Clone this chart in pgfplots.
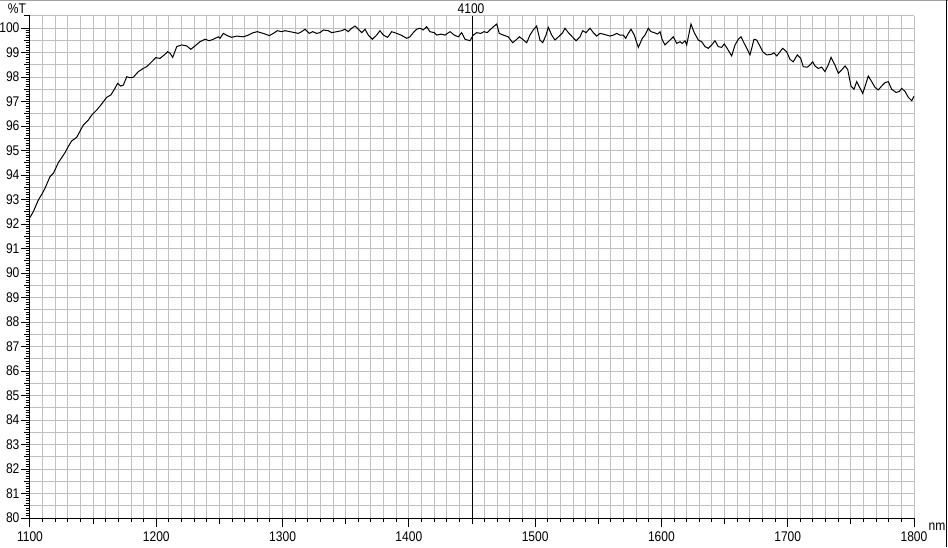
\documentclass[border=0pt]{standalone}
\usepackage{fontspec}
\setmainfont[FakeStretch=0.86]{Liberation Sans}
\usepackage{pgfplots}
\pgfplotsset{compat=1.18}
\definecolor{gridgray}{RGB}{192,192,192}
\definecolor{framegray}{RGB}{160,160,160}
\begin{document}
\begin{tikzpicture}
\path[use as bounding box] (-22.5pt,-21.75pt) rectangle (688.5pt,388.5pt);
\begin{axis}[
  at={(0pt,0pt)}, anchor=south west, scale only axis,
  width=663pt, height=376.6875pt,
  xmin=1100, xmax=1800, ymin=80, ymax=100.5,
  axis x line*=bottom, axis y line*=left,
  axis line style={-, black, line width=0.75pt},
  tick align=outside,
  xtick={1100,1200,...,1800}, minor x tick num=9,
  ytick={80,81,...,100}, minor y tick num=9,
  extra x ticks={1150,1250,...,1750}, extra x tick labels={},
  extra x tick style={major tick length=4.5pt},
  extra y ticks={80.5,81.5,...,100.5}, extra y tick labels={},
  extra y tick style={major tick length=4.5pt, grid=major},
  xmajorgrids, xminorgrids, ymajorgrids,
  grid style={draw=gridgray, line width=0.75pt},
  major tick length=6.75pt, minor tick length=3pt,
  tick style={black, line width=0.75pt},
  tick label style={font=\fontsize{10.5}{12}\selectfont},
  yticklabel style={inner sep=1pt},
  /pgf/number format/assume math mode=true,
  /pgf/number format/1000 sep={},
]
\addplot[black, line width=0.75pt] coordinates {(1450,80) (1450,100.5)};
\addplot[black, line width=0.75pt] table {
x y
1100.0 92.27
1102.6 92.50
1106.6 92.98
1109.3 93.21
1111.9 93.46
1115.8 93.93
1118.5 94.07
1122.4 94.50
1127.7 94.91
1130.3 95.16
1133.0 95.39
1137.0 95.54
1142.2 96.04
1146.2 96.24
1148.9 96.45
1152.8 96.65
1156.8 96.90
1160.7 97.17
1164.1 97.27
1167.3 97.54
1169.4 97.74
1171.8 97.63
1173.9 97.67
1176.6 98.01
1179.2 97.97
1181.8 97.99
1185.8 98.22
1189.7 98.35
1192.4 98.42
1196.4 98.62
1199.5 98.79
1202.9 98.76
1206.3 98.90
1209.0 99.03
1210.9 98.97
1213.0 98.80
1216.2 99.24
1220.1 99.31
1224.1 99.27
1227.3 99.13
1230.7 99.27
1234.6 99.44
1238.6 99.54
1242.0 99.48
1245.1 99.54
1249.1 99.64
1250.5 99.58
1253.1 99.78
1257.0 99.67
1259.7 99.62
1263.7 99.67
1268.9 99.64
1272.9 99.71
1276.8 99.81
1280.0 99.85
1284.7 99.78
1289.5 99.69
1292.7 99.78
1295.8 99.89
1299.3 99.85
1301.9 99.89
1305.9 99.85
1309.8 99.81
1312.5 99.78
1315.1 99.85
1317.8 99.95
1321.2 99.78
1323.9 99.85
1327.0 99.78
1329.6 99.81
1332.3 99.92
1336.2 99.89
1338.9 99.81
1342.9 99.85
1346.8 99.89
1349.4 99.95
1352.0 99.85
1354.7 99.99
1357.4 100.08
1360.0 99.95
1362.7 99.81
1365.3 99.95
1367.9 99.71
1371.1 99.54
1374.5 99.71
1377.1 99.89
1379.8 99.71
1383.2 99.62
1386.4 99.85
1390.4 99.78
1393.8 99.71
1398.3 99.58
1400.9 99.64
1403.5 99.81
1406.2 99.95
1408.8 99.99
1411.4 99.92
1414.1 100.05
1416.7 99.85
1420.2 99.81
1422.0 99.71
1425.5 99.75
1428.6 99.71
1432.6 99.85
1436.0 99.71
1439.2 99.64
1441.8 99.81
1444.5 99.54
1448.4 99.48
1451.0 99.71
1453.7 99.81
1456.9 99.78
1459.5 99.85
1462.1 99.81
1464.8 99.95
1466.9 100.05
1469.6 100.16
1471.6 99.78
1474.8 99.71
1478.7 99.64
1482.2 99.40
1484.8 99.51
1487.5 99.64
1490.1 99.54
1493.3 99.40
1495.9 99.71
1498.5 99.92
1501.2 100.08
1503.8 99.51
1506.0 99.40
1508.6 99.71
1510.4 100.03
1513.1 99.71
1515.7 99.51
1519.1 99.67
1521.8 99.81
1523.6 99.99
1526.3 99.81
1528.9 99.67
1532.4 99.48
1535.5 99.64
1537.7 99.89
1540.3 99.81
1543.4 99.99
1546.1 99.81
1548.7 99.67
1551.4 99.78
1554.0 99.75
1556.7 99.71
1559.3 99.67
1561.9 99.71
1564.6 99.78
1567.2 99.71
1569.8 99.71
1571.7 99.58
1573.8 99.78
1575.9 99.95
1578.5 99.71
1581.7 99.21
1584.9 99.58
1587.0 99.71
1589.6 99.99
1591.7 99.85
1594.4 99.81
1597.0 99.75
1598.9 99.85
1600.7 99.51
1602.8 99.31
1605.4 99.44
1609.4 99.64
1612.1 99.37
1614.7 99.44
1616.5 99.37
1618.7 99.48
1620.0 99.31
1623.4 100.16
1626.0 99.81
1629.2 99.51
1631.9 99.44
1634.5 99.24
1637.1 99.17
1639.8 99.31
1642.4 99.48
1645.0 99.24
1647.7 99.21
1649.8 99.35
1652.5 99.13
1655.6 98.86
1658.3 99.31
1660.9 99.54
1663.0 99.64
1665.6 99.37
1668.3 99.10
1670.1 98.90
1671.5 99.17
1673.3 99.54
1675.4 99.51
1677.5 99.31
1680.2 99.03
1683.4 98.90
1687.3 98.93
1689.1 98.99
1691.3 98.86
1693.9 99.03
1696.0 99.17
1699.2 99.03
1701.8 98.72
1704.4 98.62
1707.6 98.90
1710.3 98.76
1712.3 98.42
1715.5 98.40
1717.6 98.49
1719.8 98.62
1721.6 98.45
1724.2 98.35
1726.9 98.40
1729.5 98.22
1732.1 98.49
1734.3 98.80
1737.4 98.49
1740.1 98.15
1742.7 98.29
1745.4 98.45
1747.5 98.31
1750.1 97.63
1752.5 97.50
1754.6 97.81
1756.7 97.60
1759.4 97.33
1762.0 97.74
1763.8 98.04
1766.5 97.81
1769.1 97.58
1771.7 97.47
1774.4 97.63
1777.0 97.77
1779.7 97.81
1782.3 97.50
1785.8 97.37
1788.4 97.41
1790.3 97.54
1792.9 97.41
1795.5 97.17
1798.2 97.03
1800.0 97.22
};
\end{axis}
\node[font=\fontsize{10.5}{12}\selectfont, inner sep=0pt] at (330.75pt,381.75pt) {4100};
\node[font=\fontsize{10.5}{12}\selectfont, inner sep=0pt] at (-9.75pt,381.75pt) {\%T};
\node[font=\fontsize{10.5}{12}\selectfont, inner sep=0pt] at (680.25pt,-6.75pt) {nm};
\draw[framegray, line width=1pt] (-22.5pt,388.0pt) -- (688.5pt,388.0pt);
\draw[black, line width=0.75pt] (687.4pt,-21.75pt) -- (687.4pt,388.5pt);
\end{tikzpicture}
\end{document}
